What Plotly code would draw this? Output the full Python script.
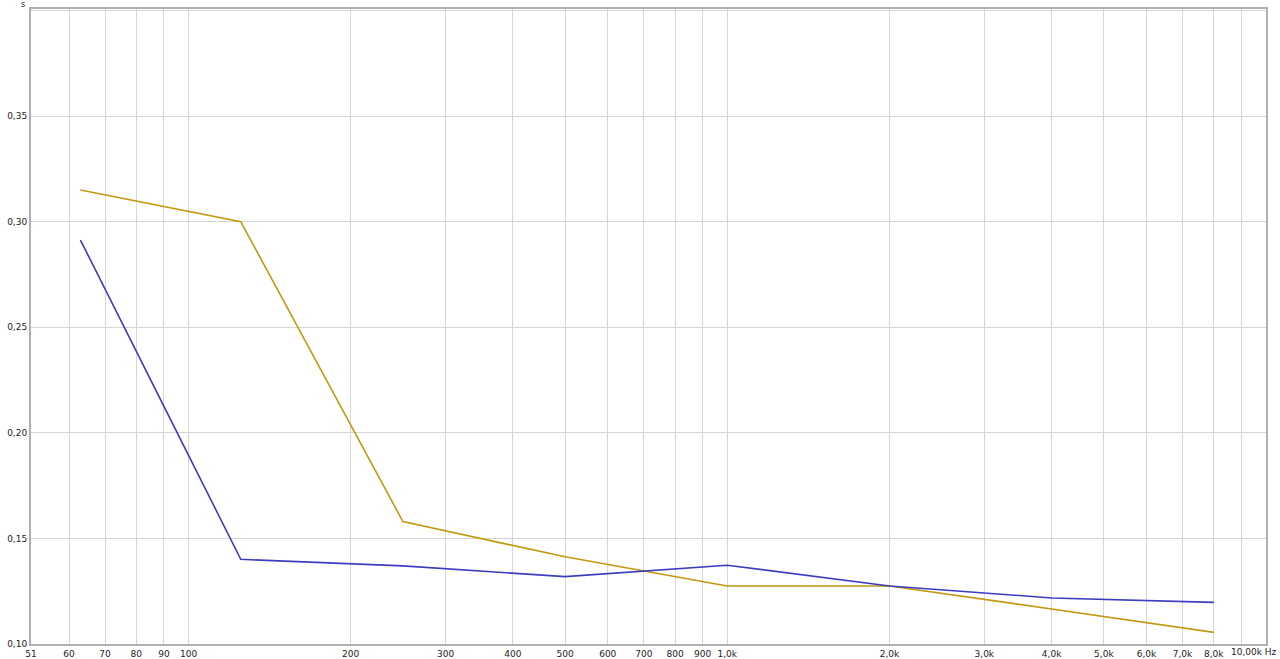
import plotly.graph_objects as go
import numpy as np

freqs = [63, 125, 250, 500, 1000, 2000, 4000, 8000]
series_gold = [0.315, 0.300, 0.158, 0.1413, 0.1275, 0.1275, 0.1166, 0.1055]
series_blue = [0.2913, 0.1401, 0.137, 0.1319, 0.1373, 0.1275, 0.1218, 0.1197]

x_tickvals = [51, 60, 70, 80, 90, 100, 200, 300, 400, 500, 600, 700, 800, 900,
              1000, 2000, 3000, 4000, 5000, 6000, 7000, 8000, 9000, 10000]
x_ticktext = ["51", "60", "70", "80", "90", "100", "200", "300", "400", "500", "600",
              "700", "800", "900", "1,0k", "2,0k", "3,0k", "4,0k", "5,0k", "6,0k",
              "7,0k", "8,0k", "", ""]
y_tickvals = [0.10, 0.15, 0.20, 0.25, 0.30, 0.35, 0.40]
y_ticktext = ["0,10", "0,15", "0,20", "0,25", "0,30", "0,35", ""]

fig = go.Figure()
fig.add_trace(go.Scatter(x=freqs, y=series_gold, mode="lines",
                         line=dict(color="#c2980e", width=1.6), showlegend=False))
fig.add_trace(go.Scatter(x=freqs, y=series_blue, mode="lines",
                         line=dict(color="#3c3cc0", width=1.6), showlegend=False))

font = dict(family="DejaVu Sans", size=9, color="#222222")
fig.update_layout(
    width=1280, height=659,
    margin=dict(l=31, r=14, t=9, b=15),
    paper_bgcolor="white", plot_bgcolor="white",
    font=font,
    xaxis=dict(type="log", range=[np.log10(51), np.log10(10000)],
               tickvals=x_tickvals, ticktext=x_ticktext, tickangle=0,
               showgrid=True, gridcolor="#d6d6d6", gridwidth=1,
               showline=True, linecolor="#b0b0b0", linewidth=2, mirror=True,
               ticks="", ticklen=0, tickfont=font, zeroline=False,
               automargin=False),
    yaxis=dict(range=[0.10, 0.4007], tickvals=y_tickvals, ticktext=y_ticktext,
               showgrid=True, gridcolor="#d6d6d6", gridwidth=1,
               showline=True, linecolor="#b0b0b0", linewidth=2, mirror=True,
               ticks="", ticklen=0, tickfont=font, zeroline=False,
               automargin=False),
    annotations=[
        dict(text="10,00k Hz", xref="paper", yref="paper", x=1, y=0,
             xanchor="right", yanchor="top", xshift=13, yshift=-1,
             showarrow=False, font=font),
        dict(text="s", xref="paper", yref="paper", x=0, y=1,
             xanchor="right", yanchor="bottom", xshift=-4, yshift=-2,
             showarrow=False, font=dict(family="DejaVu Sans", size=8, color="#222222")),
    ],
)
fig.write_html("out.html", config={"displayModeBar": False},
               post_script="document.body.style.margin='0';document.body.style.overflow='hidden';")
